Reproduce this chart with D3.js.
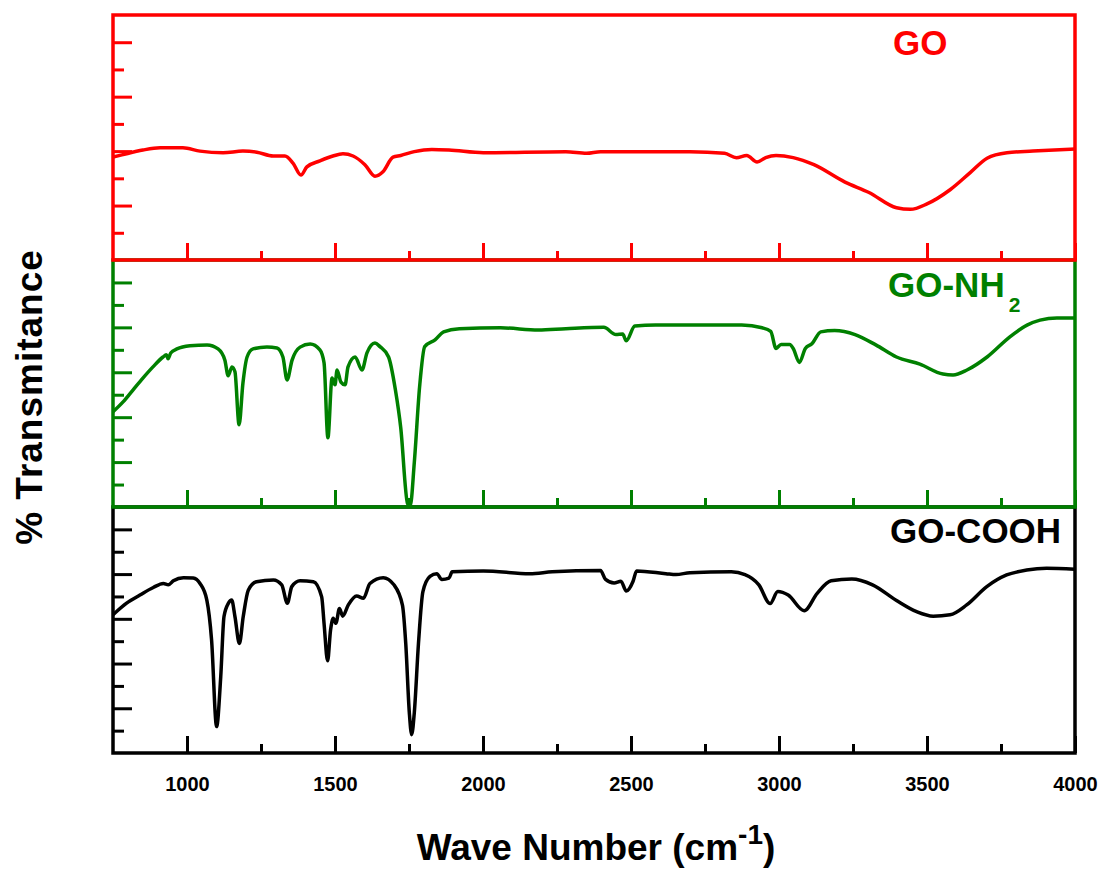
<!DOCTYPE html>
<html><head><meta charset="utf-8">
<script src="https://cdn.jsdelivr.net/npm/d3@7"></script>
<style>
body{margin:0;background:#fff}
svg text{font-family:"Liberation Sans",Arial,sans-serif;font-weight:bold}
</style>
</head><body>
<svg id="chart" width="1102" height="870"></svg>
<script>
// ---------------- DATA ----------------
const xDomain = [750, 4000];
const xMajorTicks = [1000, 1500, 2000, 2500, 3000, 3500, 4000];
const xMinorTicks = [1250, 1750, 2250, 2750, 3250, 3750];

const seriesNames = ["GO", "GO-NH2", "GO-COOH"];
const seriesColors = ["#ff0000", "#008000", "#000000"];

const goWn = [750, 780, 851, 909, 986, 1044, 1122, 1189, 1236, 1291, 1331, 1358, 1385, 1405, 1449, 1493, 1527, 1561, 1601, 1635, 1662, 1696, 1722, 1768, 1827, 1885, 2001, 2280, 2350, 2397, 2699, 2816, 2856, 2891, 2926, 2955, 2990, 3048, 3118, 3223, 3304, 3397, 3444, 3500, 3578, 3645, 3703, 3770, 3858, 4000];
const goT  = [18.9, 19.3, 20.2, 20.6, 20.6, 20.0, 19.7, 20.0, 19.8, 19.1, 19.1, 17.8, 15.6, 17.1, 18.2, 19.1, 19.5, 19.1, 17.5, 15.4, 16.2, 18.9, 19.2, 19.9, 20.3, 20.2, 19.7, 19.9, 19.6, 19.9, 19.9, 19.6, 18.8, 19.2, 18.0, 18.8, 19.2, 18.8, 17.5, 14.3, 12.4, 9.6, 9.3, 10.3, 12.9, 16.0, 18.7, 19.7, 20.0, 20.4];

const nh2Wn = [750, 784, 818, 851, 885, 919, 930, 936, 945, 966, 1010, 1068, 1105, 1128, 1139, 1152, 1162, 1176, 1189, 1203, 1223, 1270, 1304, 1324, 1338, 1355, 1382, 1416, 1449, 1463, 1476, 1490, 1500, 1507, 1520, 1534, 1544, 1568, 1591, 1608, 1635, 1652, 1681, 1704, 1722, 1745, 1754, 1768, 1786, 1803, 1838, 1867, 1920, 2059, 2187, 2280, 2408, 2449, 2472, 2484, 2513, 2583, 2874, 2943, 2972, 2990, 3007, 3036, 3048, 3069, 3089, 3112, 3141, 3188, 3257, 3327, 3397, 3476, 3554, 3588, 3635, 3703, 3780, 3838, 3882, 3939, 4000];
const nh2T  = [21.2, 23.4, 26.1, 28.7, 31.2, 33.4, 33.9, 33.0, 34.3, 35.2, 35.9, 36.1, 35.2, 32.7, 29.2, 31.2, 30.1, 18.3, 27.6, 33.4, 35.2, 35.6, 35.4, 33.4, 28.3, 32.7, 35.6, 36.3, 35.0, 32.1, 15.4, 28.7, 27.2, 30.5, 27.8, 27.2, 31.2, 33.4, 30.5, 34.3, 36.5, 35.7, 33.4, 26.1, 17.7, 0.8, 0.2, 10.0, 26.9, 35.7, 37.2, 39.0, 39.7, 39.9, 39.4, 39.7, 40.0, 38.4, 38.5, 37.0, 40.3, 40.5, 40.5, 39.9, 39.1, 35.3, 36.2, 36.2, 35.3, 32.2, 35.3, 36.4, 39.0, 39.3, 38.4, 36.1, 33.4, 31.8, 29.6, 29.4, 30.5, 33.4, 37.9, 40.5, 41.6, 42.1, 42.1];

const coohWn = [750, 796, 841, 886, 920, 937, 954, 988, 1021, 1044, 1067, 1083, 1100, 1114, 1125, 1140, 1151, 1162, 1177, 1190, 1207, 1235, 1292, 1320, 1339, 1354, 1382, 1427, 1455, 1463, 1475, 1485, 1494, 1503, 1515, 1526, 1545, 1573, 1596, 1618, 1663, 1699, 1728, 1739, 1751, 1759, 1768, 1782, 1797, 1821, 1844, 1861, 1885, 1896, 2001, 2158, 2234, 2397, 2414, 2443, 2466, 2484, 2507, 2519, 2618, 2652, 2699, 2839, 2885, 2932, 2970, 2996, 3031, 3085, 3129, 3176, 3246, 3316, 3397, 3465, 3521, 3578, 3634, 3702, 3769, 3837, 3904, 4000];
const coohT  = [30.9, 33.5, 35.3, 37.0, 37.9, 37.6, 38.5, 39.2, 39.1, 37.9, 34.2, 25.3, 5.9, 17.1, 30.5, 33.5, 34.2, 30.5, 24.5, 30.5, 36.4, 38.3, 38.7, 37.6, 33.5, 37.2, 38.5, 38.3, 34.9, 29.0, 20.6, 27.5, 30.1, 29.0, 32.3, 30.6, 33.1, 35.1, 34.6, 37.9, 39.2, 37.6, 33.0, 24.5, 9.1, 4.1, 9.1, 24.5, 36.1, 39.5, 40.1, 38.8, 39.1, 40.5, 40.7, 40.1, 40.5, 40.8, 38.8, 38.0, 38.4, 36.2, 38.4, 40.7, 40.1, 39.9, 40.3, 40.5, 39.9, 37.6, 33.4, 36.1, 35.3, 31.8, 35.7, 38.5, 38.9, 37.6, 34.1, 31.6, 30.6, 30.9, 33.1, 37.2, 39.8, 40.9, 41.3, 41.1];

const yMaxes = [45, 55, 55];

// ---------------- LAYOUT ----------------
const svg = d3.select("#chart");
const L = 113, R = 1075;
const bounds = [[15, 260], [260, 507], [507, 753]];
const x = d3.scaleLinear().domain(xDomain).range([L, R]);

const panels = [
  {name: seriesNames[0], color: seriesColors[0], wn: goWn, t: goT, ymax: yMaxes[0], top: bounds[0][0], bottom: bounds[0][1], labels: false},
  {name: seriesNames[1], color: seriesColors[1], wn: nh2Wn, t: nh2T, ymax: yMaxes[1], top: bounds[1][0], bottom: bounds[1][1], labels: false},
  {name: seriesNames[2], color: seriesColors[2], wn: coohWn, t: coohT, ymax: yMaxes[2], top: bounds[2][0], bottom: bounds[2][1], labels: true}
];

const defs = svg.append("defs");

// draw bottom panel first so upper frames overlay shared borders
panels.slice().reverse().forEach((p, i) => {
  const y = d3.scaleLinear().domain([0, p.ymax]).range([p.bottom, p.top]);
  const g = svg.append("g");
  const cid = "clip" + i;
  defs.append("clipPath").attr("id", cid).append("rect")
    .attr("x", L).attr("y", p.top).attr("width", R - L).attr("height", p.bottom - p.top);

  const pts = p.wn.map((w, k) => [w, p.t[k]]);
  g.append("path").datum(pts)
    .attr("clip-path", `url(#${cid})`)
    .attr("fill", "none").attr("stroke", p.color).attr("stroke-width", 3.5)
    .attr("stroke-linejoin", "round").attr("stroke-linecap", "round")
    .attr("d", d3.line().x(d => x(d[0])).y(d => y(d[1])).curve(d3.curveMonotoneX));

  // x ticks (inward)
  const xMaj = g.append("g").attr("transform", `translate(0,${p.bottom})`)
    .call(d3.axisBottom(x).tickValues(xMajorTicks).tickSize(-17).tickSizeOuter(0).tickPadding(24)
      .tickFormat(p.labels ? d3.format("d") : ""));
  xMaj.attr("color", p.color).attr("font-size", 20).attr("font-family", null);
  xMaj.selectAll("text").attr("fill", "#000");
  const xMin = g.append("g").attr("transform", `translate(0,${p.bottom})`)
    .call(d3.axisBottom(x).tickValues(xMinorTicks).tickSize(-9).tickSizeOuter(0).tickFormat(""));
  xMin.attr("color", p.color);

  // y ticks (inward)
  const yMajorVals = d3.range(10, p.ymax, 10);
  const yMinorVals = d3.range(5, p.ymax, 10);
  const yMaj = g.append("g").attr("transform", `translate(${L},0)`)
    .call(d3.axisLeft(y).tickValues(yMajorVals).tickSize(-19).tickSizeOuter(0).tickFormat(""));
  yMaj.attr("color", p.color);
  const yMin = g.append("g").attr("transform", `translate(${L},0)`)
    .call(d3.axisLeft(y).tickValues(yMinorVals).tickSize(-11).tickSizeOuter(0).tickFormat(""));
  yMin.attr("color", p.color);

  g.selectAll(".domain").remove();
  g.selectAll(".tick line").attr("stroke-width", 3);

  // frame
  g.append("rect").attr("x", L).attr("y", p.top).attr("width", R - L).attr("height", p.bottom - p.top)
    .attr("fill", "none").attr("stroke", p.color).attr("stroke-width", 3.5);
});

// panel labels
svg.append("text").attr("x", 893).attr("y", 55).attr("fill", seriesColors[0])
  .attr("font-size", 35).text(seriesNames[0]);

const nhLabel = svg.append("text").attr("x", 888).attr("y", 297).attr("fill", seriesColors[1]).attr("font-size", 35);
nhLabel.append("tspan").text("GO-NH");
nhLabel.append("tspan").attr("font-size", 21).attr("dy", 15).attr("dx", 4).text("2");

svg.append("text").attr("x", 890).attr("y", 543).attr("fill", seriesColors[2])
  .attr("font-size", 35).text(seriesNames[2]);

// axis titles
const xt = svg.append("text").attr("x", 596).attr("y", 860).attr("text-anchor", "middle")
  .attr("font-size", 37).attr("fill", "#000");
xt.append("tspan").text("Wave Number (cm");
xt.append("tspan").attr("font-size", 28).attr("dy", -16).text("-1");
xt.append("tspan").attr("dy", 16).text(")");

svg.append("text").attr("transform", "translate(42,397) rotate(-90)").attr("text-anchor", "middle")
  .attr("font-size", 37).attr("letter-spacing", 1).attr("fill", "#000").text("% Transmitance");
</script>
</body></html>
